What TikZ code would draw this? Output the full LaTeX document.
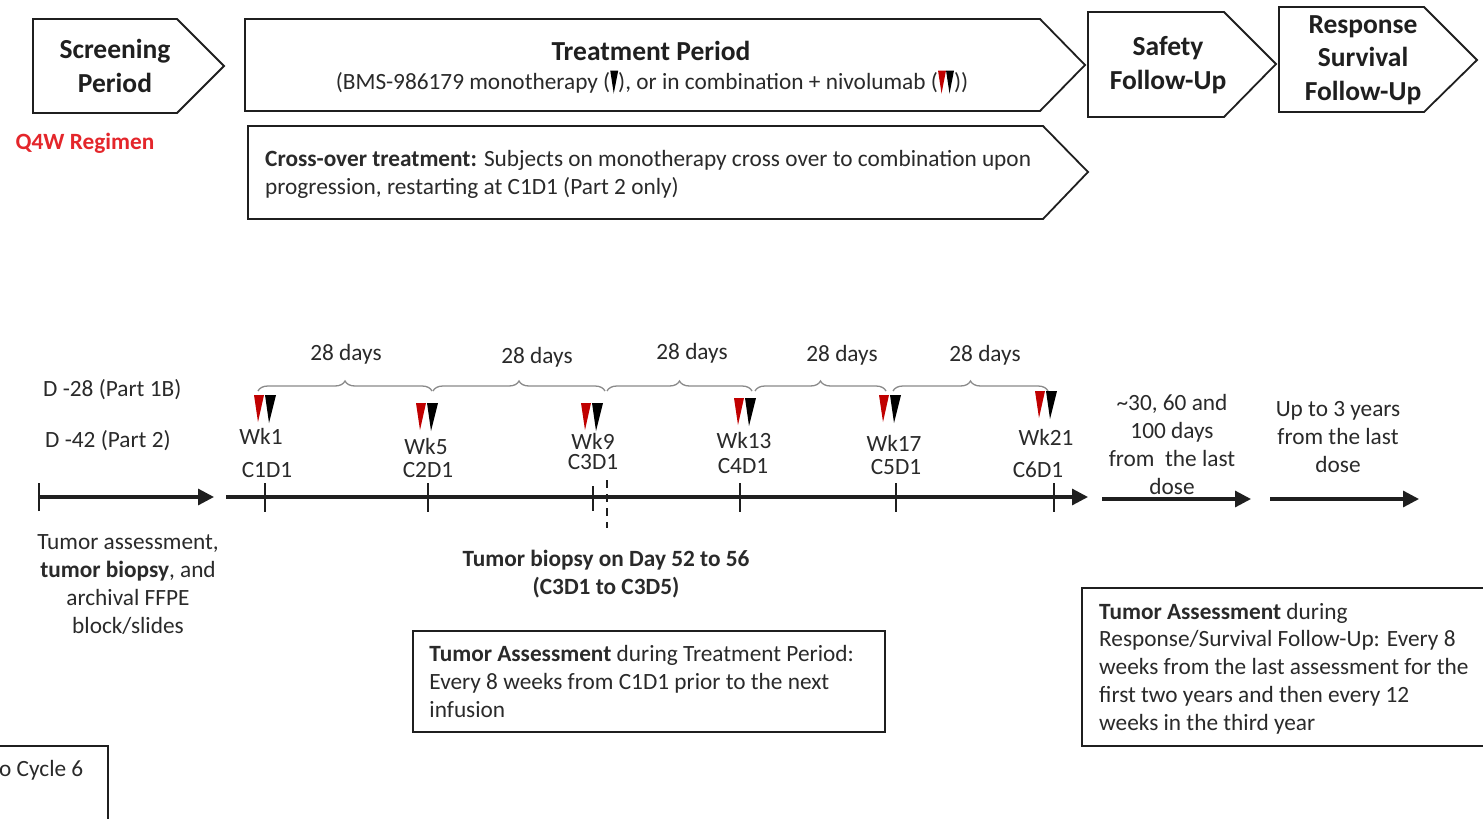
\documentclass[tikz,border=0pt]{standalone}
\usepackage{fontspec}
\setmainfont{Carlito}
\usetikzlibrary{arrows.meta,decorations.pathreplacing}

\definecolor{ink}{HTML}{1F1F1F}
\definecolor{txt}{HTML}{2A2A2A}
\definecolor{dosered}{HTML}{C00000}
\definecolor{regred}{HTML}{E4262B}
\definecolor{bracegray}{HTML}{8A8A8A}

\newcommand\bodyfont{\fontsize{23.3}{28}\selectfont}
\newcommand\headfont{\fontsize{27.5}{33.5}\selectfont\bfseries}
% small inline dose markers used in the treatment legend
\newcommand\blkmark{\tikz[baseline=0pt,x=1pt,y=1pt]\fill[black] (0,19) -- (8,19) -- (3.5,-4) -- cycle;}
\newcommand\redmark{\tikz[baseline=0pt,x=1pt,y=1pt]\fill[dosered] (0,19) -- (8,19) -- (3.5,-4) -- cycle;}

\tikzset{
  phase/.style={draw=ink, line width=1.8pt, line join=miter},
  label/.style={font=\bodyfont, text=txt, inner sep=0pt},
  head/.style={font=\headfont, text=ink, align=center, inner sep=0pt},
  axis/.style={line width=3.2pt, draw=ink},
  axisarrow/.style={axis, -{Triangle[length=16pt,width=16pt]}},
  tickmark/.style={line width=2.2pt, draw=ink},
  span/.style={draw=bracegray, line width=1.3pt, decorate,
    decoration={brace, amplitude=10pt}},
  notebox/.style={draw=ink, line width=1.5pt, inner sep=0pt},
  pics/dose/.style={code={
    \fill[dosered] (-11,0) -- (-1,0) -- (-7,27) -- cycle;
    \fill[black] (0,0) -- (11,0) -- (4,28) -- cycle;}}
}

\begin{document}
\begin{tikzpicture}[x=1pt,y=-1pt]
\useasboundingbox (0,0) rectangle (1483,819);
\clip (0,0) rectangle (1483,819);
\fill[white] (0,0) rectangle (1483,819);

% ---- study phases ----
\draw[phase] (33,19) -- (177,19) -- (224,66) -- (177,113) -- (33,113) -- cycle;
\node[head] (screen) at (115,66) {Screening\\Period};

\draw[phase] (245,19) -- (1040,19) -- (1085,65) -- (1040,111) -- (245,111) -- cycle;
\node[head] (treat) at (651,51) {Treatment Period};
\node[label] (treatsub) at (652,82) {(BMS-986179 monotherapy (\blkmark), or in combination + nivolumab (\redmark\blkmark))};

\draw[phase] (248,126) -- (1043,126) -- (1088,172) -- (1043,219) -- (248,219) -- cycle;
\node[label, align=left, anchor=west] (cross) at (265,174)
  {\textbf{Cross-over treatment:} Subjects on monotherapy cross over to combination upon\\progression, restarting at C1D1 (Part 2 only)};

\draw[phase] (1088,12) -- (1224,12) -- (1276,64) -- (1224,117) -- (1088,117) -- cycle;
\node[head] (safety) at (1168,65) {Safety\\Follow-Up};

\draw[phase] (1279,7) -- (1424,7) -- (1477,60) -- (1424,112) -- (1279,112) -- cycle;
\node[head] (resp) at (1363,60) {Response\\Survival\\Follow-Up};

\node[label, font=\bodyfont\bfseries, text=regred] (q4w) at (85,143) {Q4W Regimen};

% ---- time line ----
\coordinate (pre0) at (39,497);
\coordinate (pre1) at (214,497);
\coordinate (tx0) at (226,497);
\coordinate (tx1) at (1088,497);
\coordinate (sf0) at (1102,499);
\coordinate (sf1) at (1251,499);
\coordinate (rs0) at (1270,499);
\coordinate (rs1) at (1419,499);

\draw[axisarrow] (pre0) -- (pre1);
\draw[tickmark] ([yshift=-14pt]pre0) -- ([yshift=14pt]pre0);
\draw[axisarrow] (tx0) -- (tx1);
\draw[axisarrow] (sf0) -- (sf1);
\draw[axisarrow] (rs0) -- (rs1);

\foreach \x in {265,428,740,896,1054}
  \draw[tickmark] (\x,483) -- (\x,512);
\draw[tickmark] (593,486) -- (593,511);
\draw[tickmark, dash pattern=on 8pt off 6pt] (607,480) -- (607,528);

% ---- cycle spans ----
\draw[span] (258,391) -- (432,391);
\draw[span] (433,391) -- (605,391);
\draw[span] (607,391) -- (752,391);
\draw[span] (755,391) -- (886,391);
\draw[span] (893,391) -- (1048,391);
\node[label] (d1) at (346,354) {28 days};
\node[label] (d2) at (537,357) {28 days};
\node[label] (d3) at (692,353) {28 days};
\node[label] (d4) at (842,355) {28 days};
\node[label] (d5) at (985,355) {28 days};

% ---- dosing visits ----
\pic at (265,395) {dose};
\pic at (427,403) {dose};
\pic at (592,403) {dose};
\pic at (745,398) {dose};
\pic at (890,395) {dose};
\pic at (1046,391) {dose};

\node[label] (wk1) at (261,436) {Wk1};
\node[label] (c1) at (267,470) {C1D1};
\node[label] (wk5) at (426,446) {Wk5};
\node[label] (c2) at (428,470) {C2D1};
\node[label] (wk9) at (593,441) {Wk9};
\node[label] (c3) at (593,462) {C3D1};
\node[label] (wk13) at (744,440) {Wk13};
\node[label] (c4) at (743,466) {C4D1};
\node[label] (wk17) at (894,443) {Wk17};
\node[label] (c5) at (896,467) {C5D1};
\node[label] (wk21) at (1046,437) {Wk21};
\node[label] (c6) at (1038,470) {C6D1};

\node[label, anchor=west] (d28) at (43,390) {D -28 (Part 1B)};
\node[label, anchor=west] (d42) at (45,441) {D -42 (Part 2)};

\node[label, align=center] (sfdays) at (1172,444) {\textasciitilde30, 60 and\\100 days\\from\ \ the last\\dose};
\node[label, align=center] (rsyears) at (1338,437) {Up to 3 years\\from the last\\dose};

% ---- assessments ----
\node[label, align=center] (baseline) at (128,585)
  {Tumor assessment,\\\textbf{tumor biopsy}, and\\archival FFPE\\block/slides};
\node[label, align=center, font=\bodyfont\bfseries] (biopsy) at (606,574)
  {Tumor biopsy on Day 52 to 56\\(C3D1 to C3D5)};

\node[notebox, minimum width=472pt, minimum height=101pt] (txbox) at (649,681.5) {};
\node[label, align=left, anchor=west] (txnote) at ([xshift=17pt]txbox.west)
  {\textbf{Tumor Assessment} during Treatment Period:\\Every 8 weeks from C1D1 prior to the next\\infusion};

\node[notebox, minimum width=420pt, minimum height=158pt] (fubox) at (1292,667) {};
\node[label, align=left, anchor=west, font=\fontsize{23.3}{27.75}\selectfont] (funote) at (1099,668.5)
  {\textbf{Tumor Assessment} during\\Response/Survival Follow-Up: Every 8\\weeks from the last assessment for the\\first two years and then every 12\\weeks in the third year};

\node[notebox, minimum width=140pt, minimum height=100pt] (cyclebox) at (38,796) {};
\node[label, anchor=west] (cyclenote) at (-1,770) {o Cycle 6};
\end{tikzpicture}
\end{document}
